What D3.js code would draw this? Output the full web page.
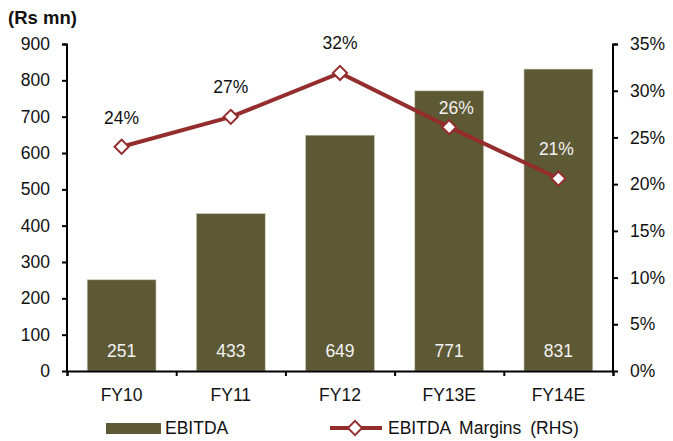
<!DOCTYPE html>
<html>
<head>
<meta charset="utf-8">
<script src="https://cdn.jsdelivr.net/npm/d3@7/dist/d3.min.js"></script>
<style>
  html, body { margin: 0; padding: 0; background: #fff; }
  svg text { font-family: "Liberation Sans", Arial, sans-serif; }
</style>
</head>
<body>
<svg id="chart" width="673" height="441"></svg>
<script>
// data
var years = ["FY10", "FY11", "FY12", "FY13E", "FY14E"];
var ebitda = [251, 433, 649, 771, 831];
var margins = [0.240, 0.272, 0.319, 0.261, 0.206];
var leftTicks = [0, 100, 200, 300, 400, 500, 600, 700, 800, 900];
var rightTicks = [0, 0.05, 0.10, 0.15, 0.20, 0.25, 0.30, 0.35];

var barColor = "#5e5935";
var lineColor = "#942d2d";
var fontSize = 17.5;

var svg = d3.select("#chart");

var x = d3.scaleBand().domain(years).range([67, 613]).paddingInner(0.37).paddingOuter(0.185);
var xEdge = d3.scaleLinear().domain([0, years.length]).range([67, 613]); // category boundaries for ticks
var y = d3.scaleLinear().domain([0, 900]).range([371, 44]);
var y2 = d3.scaleLinear().domain([0, 0.35]).range([371, 44]);

// bars
svg.append("g").selectAll("rect")
  .data(ebitda)
  .enter().append("rect")
  .attr("x", (d, i) => x(years[i]))
  .attr("y", d => y(d))
  .attr("width", x.bandwidth())
  .attr("height", d => y(0) - y(d))
  .attr("fill", barColor)
  .attr("stroke", "#c9c6b0")
  .attr("stroke-width", 0.6);

// values inside bars
svg.append("g").selectAll("text")
  .data(ebitda)
  .enter().append("text")
  .attr("x", (d, i) => x(years[i]) + x.bandwidth() / 2)
  .attr("y", 357)
  .attr("text-anchor", "middle")
  .attr("font-size", fontSize)
  .attr("fill", "#f2f2f2")
  .text(d => d);

// left axis
var leftAxis = d3.axisLeft(y).tickValues(leftTicks).tickSize(5).tickPadding(12);
var gl = svg.append("g").attr("transform", "translate(67,0)").call(leftAxis);
// right axis
var rightAxis = d3.axisRight(y2).tickValues(rightTicks).tickSize(5).tickPadding(12).tickFormat(d3.format(".0%"));
var gr = svg.append("g").attr("transform", "translate(613,0)").call(rightAxis);
// x axis
var gx = svg.append("g").attr("transform", "translate(0,371)")
  .call(d3.axisBottom(xEdge).tickValues(d3.range(years.length + 1)).tickSize(5).tickFormat(""));
svg.append("g").selectAll("text")
  .data(years)
  .enter().append("text")
  .attr("x", d => x(d) + x.bandwidth() / 2)
  .attr("y", 401)
  .attr("text-anchor", "middle")
  .attr("font-size", fontSize)
  .attr("fill", "#111")
  .text(d => d);

[gl, gr, gx].forEach(function (g) {
  g.select(".domain").attr("stroke", "#000").attr("stroke-width", 2);
  g.selectAll(".tick line").attr("stroke", "#000").attr("stroke-width", 2);
  g.selectAll(".tick text").attr("font-size", fontSize).attr("fill", "#111")
    .style("font-family", "'Liberation Sans', Arial, sans-serif");
});
gl.select(".domain").attr("d", "M-5,44.5H0V371");
gr.select(".domain").attr("d", "M5,44.5H0V371");

// margin line
var cx = (d, i) => x(years[i]) + x.bandwidth() / 2;
var line = d3.line().x(cx).y(d => y2(d));
svg.append("path")
  .datum(margins)
  .attr("d", line)
  .attr("fill", "none")
  .attr("stroke", lineColor)
  .attr("stroke-width", 4);

var diamond = d3.symbol().type(d3.symbolSquare).size(100);
svg.append("g").selectAll("path")
  .data(margins)
  .enter().append("path")
  .attr("d", diamond)
  .attr("transform", (d, i) => `translate(${cx(d, i)},${y2(d)}) rotate(45)`)
  .attr("fill", "#fff")
  .attr("stroke", lineColor)
  .attr("stroke-width", 2);

// margin labels
var labelDy = [-23, -24, -24, -13, -24];
var labelDx = [0, 0, 0, 7, -2];
var labelFill = ["#111", "#111", "#111", "#f2f2f2", "#f2f2f2"];
svg.append("g").selectAll("text")
  .data(margins)
  .enter().append("text")
  .attr("x", (d, i) => cx(d, i) + labelDx[i])
  .attr("y", (d, i) => y2(d) + labelDy[i])
  .attr("text-anchor", "middle")
  .attr("font-size", fontSize)
  .attr("fill", (d, i) => labelFill[i])
  .text(d => d3.format(".0%")(d));

// unit title
svg.append("text")
  .attr("x", 8).attr("y", 24)
  .attr("font-size", 18.5)
  .attr("font-weight", "bold")
  .attr("fill", "#111")
  .text("(Rs mn)");

// legend
var lg = svg.append("g");
lg.append("rect").attr("x", 106).attr("y", 423).attr("width", 55).attr("height", 11).attr("fill", barColor);
lg.append("text").attr("x", 165).attr("y", 434).attr("font-size", fontSize).attr("fill", "#111").text("EBITDA");
lg.append("line").attr("x1", 330).attr("x2", 382).attr("y1", 428).attr("y2", 428)
  .attr("stroke", lineColor).attr("stroke-width", 4);
lg.append("path").attr("d", diamond).attr("transform", "translate(355,428) rotate(45)")
  .attr("fill", "#fff").attr("stroke", lineColor).attr("stroke-width", 2);
lg.append("text").attr("x", 388).attr("y", 434).attr("font-size", fontSize).attr("fill", "#111")
  .attr("word-spacing", 4).text("EBITDA Margins (RHS)");
</script>
</body>
</html>
